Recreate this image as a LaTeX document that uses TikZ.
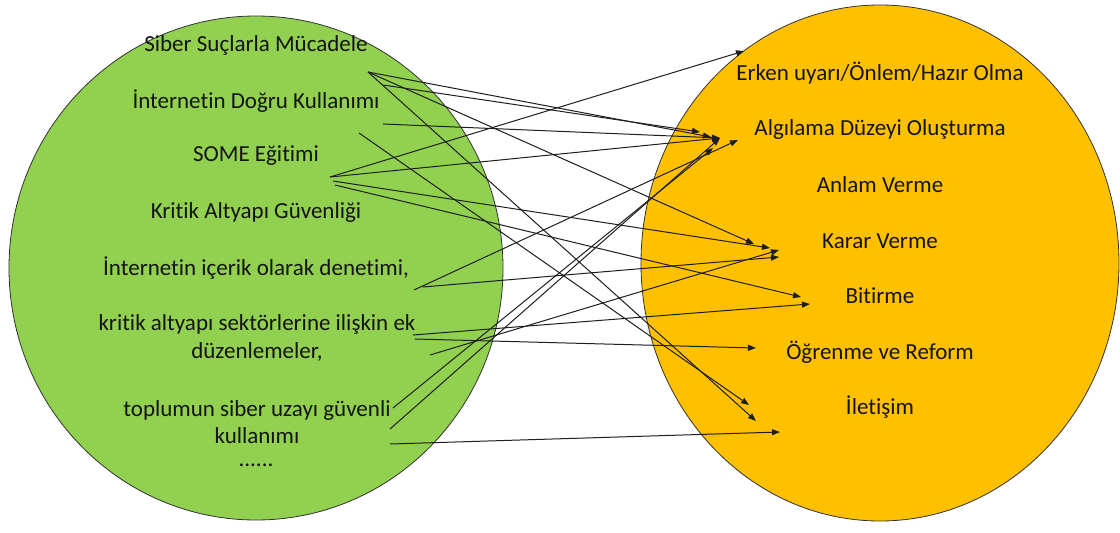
\documentclass[tikz,border=0pt]{standalone}
\usepackage{fontspec}
\setmainfont[Ligatures={NoCommon}]{Carlito}
\usetikzlibrary{arrows.meta}
\definecolor{greenfill}{RGB}{146,208,80}
\definecolor{orangefill}{RGB}{255,192,0}
\definecolor{edgec}{RGB}{50,50,50}
\definecolor{linec}{RGB}{30,30,30}
\definecolor{textc}{RGB}{20,20,20}
\begin{document}
\begin{tikzpicture}[x=1pt,y=-1pt,
  lbl/.style={font=\fontsize{23}{28}\selectfont, text=textc, align=center, inner sep=0pt},
  link/.style={draw=linec, line width=1pt, -{Triangle[length=8pt,width=6pt]}}]
\useasboundingbox (0,0) rectangle (1120,533);
\fill[white] (0,0) rectangle (1120,533);
% circles
\draw[edgec, line width=0.8pt, fill=greenfill] (256,268) ellipse [x radius=247pt, y radius=252pt];
\draw[edgec, line width=0.8pt, fill=orangefill] (880,263) ellipse [x radius=239pt, y radius=258pt];
% left texts
\node[lbl] (l1) at (256,45) {Siber Suçlarla Mücadele};
\node[lbl] (l2) at (256,101) {İnternetin Doğru Kullanımı};
\node[lbl] (l3) at (256,156) {SOME Eğitimi};
\node[lbl] (l4) at (256,212) {Kritik Altyapı Güvenliği};
\node[lbl] (l5) at (256,268) {İnternetin içerik olarak denetimi,};
\node[lbl] (l6) at (257,338) {kritik altyapı sektörlerine ilişkin ek\\düzenlemeler,};
\node[lbl, font=\fontsize{23}{27}\selectfont] (l7) at (257,422) {toplumun siber uzayı güvenli\\kullanımı};
\node[text=textc, font=\fontsize{23}{28}\selectfont, inner sep=0pt, anchor=base] (l8) at (256,466) {......};
% right texts
\node[lbl] (r1) at (880,73) {Erken uyarı/Önlem/Hazır Olma};
\node[lbl] (r2) at (880,129) {Algılama Düzeyi Oluşturma};
\node[lbl] (r3) at (880,185) {Anlam Verme};
\node[lbl] (r4) at (880,241) {Karar Verme};
\node[lbl] (r5) at (880,296) {Bitirme};
\node[lbl] (r6) at (880,352) {Öğrenme ve Reform};
\node[lbl] (r7) at (880,407) {İletişim};
% start points
\coordinate (s1) at (368,72);
\coordinate (s2) at (383,85);
\coordinate (d1) at (383,124);
\coordinate (d2) at (359,133);
\coordinate (m1) at (330,177);
\coordinate (m2) at (333,181);
\coordinate (m3) at (335,185);
\coordinate (c1) at (414,290);
\coordinate (c2) at (423,287);
\coordinate (k1) at (413,335);
\coordinate (k2) at (415,339);
\coordinate (z1) at (430,355);
\coordinate (t1) at (393,408);
\coordinate (t2) at (390,429);
\coordinate (t3) at (390,444);
% tips
\coordinate (e1) at (744,51);
\coordinate (a1) at (700,132);
\coordinate (a2) at (711,137);
\coordinate (a3) at (720,138);
\coordinate (a4) at (713,148);
\coordinate (a5) at (738,140);
\coordinate (k3) at (754,244);
\coordinate (k4) at (770,248);
\coordinate (k5) at (779,250);
\coordinate (k6) at (779,257);
\coordinate (b1) at (801,297);
\coordinate (b2) at (810,304);
\coordinate (o1) at (756,348);
\coordinate (i1) at (749,405);
\coordinate (i2) at (756,421);
\coordinate (i3) at (780,432);
% connectors
\draw[link] (s1) -- (a2);
\draw[link] (s1) -- (k3);
\draw[link] (s1) -- (i2);
\draw[link] (s2) -- (a1);
\draw[link] (d1) -- (a3);
\draw[link] (d2) -- (i1);
\draw[link] (m1) -- (e1);
\draw[link] (m1) -- (a3);
\draw[link] (m2) -- (k4);
\draw[link] (m3) -- (b1);
\draw[link] (c1) -- (a5);
\draw[link] (c2) -- (k6);
\draw[link] (k1) -- (b2);
\draw[link] (k2) -- (o1);
\draw[link] (z1) -- (k5);
\draw[link] (t1) -- (a4);
\draw[link] (t2) -- (a3);
\draw[link] (t3) -- (i3);
\end{tikzpicture}
\end{document}
